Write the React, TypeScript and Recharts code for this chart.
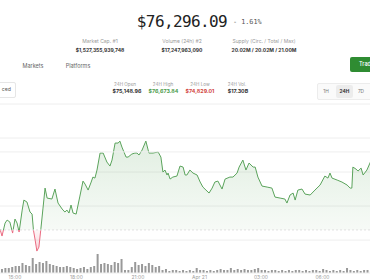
import React from "react";
import { ComposedChart, BarChart, Bar, Area, XAxis, YAxis, CartesianGrid, ReferenceLine } from "recharts";

// price samples: minutes since Apr 20 00:00, price in USD
const times = [
  856, 862, 871, 877, 885, 893, 900, 906, 912, 921,
  926, 935, 944, 950, 954, 959, 964, 970, 976, 982,
  988, 994, 1008, 1017, 1026, 1038, 1046, 1052, 1058, 1064,
  1070, 1079, 1090, 1099, 1105, 1114, 1123, 1128, 1134, 1140,
  1149, 1158, 1169, 1178, 1184, 1193, 1202, 1207, 1213, 1225,
  1231, 1242, 1251, 1257, 1263, 1272, 1283, 1292, 1304, 1319,
  1327, 1333, 1339, 1345, 1348, 1354, 1362, 1374, 1383, 1392,
  1398, 1403, 1412, 1421, 1433, 1442, 1450, 1459, 1468, 1477,
  1485, 1494, 1506, 1515, 1529, 1538, 1550, 1556, 1567, 1576,
  1585, 1597, 1603, 1611, 1623, 1638, 1652, 1661, 1676, 1690,
  1696, 1705, 1714, 1720, 1728, 1740, 1749, 1764, 1778, 1793,
  1807, 1816, 1822, 1828, 1843, 1857, 1872, 1881, 1886, 1889,
  1898, 1904, 1913, 1919, 1930, 1939, 1954,
];
const prices = [
  75162, 75059, 75250, 75294, 75265, 75103, 75309, 75250, 75118, 75441,
  75588, 75559, 75412, 75382, 75147, 75000, 74838, 74897, 75176, 75470,
  75764, 75617, 75603, 75750, 75544, 75456, 75412, 75441, 75397, 75515,
  75397, 75382, 75647, 75867, 75823, 75735, 75853, 75926, 75911, 76029,
  76279, 76279, 76147, 76088, 76176, 76426, 76426, 76455, 76367, 76220,
  76220, 76264, 76279, 76279, 76250, 76323, 76455, 76279, 76279, 76294,
  76220, 76000, 76029, 75956, 75985, 75897, 75926, 75941, 76088, 76073,
  75956, 75956, 76029, 75985, 75956, 75853, 75779, 75735, 75691, 75764,
  75853, 75867, 75750, 75897, 75926, 75926, 75985, 76073, 76176, 76029,
  76132, 76073, 76073, 75926, 75794, 75779, 75764, 75632, 75617, 75603,
  75544, 75662, 75691, 75588, 75735, 75750, 75676, 75662, 75735, 75809,
  75941, 75911, 75985, 75911, 75882, 75853, 75809, 75764, 75764, 76073,
  76044, 76014, 76058, 75956, 76029, 76132, 76294,
];

// 10-minute volume bars (USD millions)
const volumeStart = 861;
const volumes = [
  40, 50, 50, 60, 70, 70, 100, 80, 70, 150, 90, 110, 100, 120,
  90, 80, 70, 60,
  60, 70, 60, 50,
  40, 50, 60, 40,
  60, 70, 190,
  90, 100, 90, 80,
  110, 100, 140, 30,
  30, 60, 110,
  80, 90, 70, 100, 80, 60, 70,
  30, 40, 20, 30, 30, 20, 30, 20, 30, 20,
  50, 30, 30, 20, 30, 20, 30, 40, 30, 30,
  50, 30, 40, 30, 40, 30, 30, 40, 50, 30,
  30, 20, 30, 30, 20, 30, 20, 30, 20, 30, 30, 20, 30, 20, 30, 30, 20, 40,
  30, 20, 30, 20, 30, 20, 50, 30, 20, 30, 20, 30,
  30, 20,
];

const tickTimes = [900, 1080, 1260, 1440, 1620, 1800];
const tickLabels = ["15:00", "18:00", "21:00", "Apr 21", "03:00", "06:00"];
const gridPrices = [75000, 75500, 76000, 76500, 77000];

const openPrice = 75148.96;
const currentPrice = 76296.09;

const priceData = times.map((t, i) => ({ t, p: prices[i] }));
const volumeData = volumes.map((v, i) => ({ t: volumeStart + i * 10, v }));

const pMax = Math.max(...prices);
const pMin = Math.min(...prices);
const split = (pMax - openPrice) / (pMax - pMin);

const X_DOMAIN: [number, number] = [856.1, 1939.1];
const Y_DOMAIN: [number, number] = [74516, 77000];

const GREEN = "#5aa35b";
const RED = "#ea6a80";

type TProps = {
  x: number; y: number; size: number; color?: string; weight?: number;
  family?: string; children: React.ReactNode; anchor?: "center" | "left" | "right";
};
const T = ({ x, y, size, color = "#333", weight = 400, family, children, anchor = "center" }: TProps) => {
  const tx = anchor === "center" ? "-50%" : anchor === "right" ? "-100%" : "0";
  return (
    <div
      style={{
        position: "absolute", left: x, top: y, transform: `translate(${tx}, -50%)`,
        fontSize: size, color, fontWeight: weight, lineHeight: 1, whiteSpace: "nowrap",
        fontFamily: family,
      }}
    >
      {children}
    </div>
  );
};

export default function App() {
  return (
    <div
      style={{
        position: "fixed", left: 0, top: 0, width: 370, height: 280, overflow: "hidden",
        background: "#fff", fontFamily: "Inter, 'Noto Sans', sans-serif",
      }}
    >
      {/* header */}
      <T x={182} y={22} size={16} family="'DejaVu Sans Mono', monospace" color="#222">
        <span style={{ letterSpacing: -0.6 }}>$76,296.09</span>
      </T>
      <T x={233} y={21.5} size={6.8} family="'DejaVu Sans Mono', monospace" color="#555" anchor="left">
        - 1.61%
      </T>

      <T x={100} y={41} size={5} color="#9a9a9a">Market Cap. #1</T>
      <T x={182} y={41} size={5} color="#9a9a9a">Volume (24h) #2</T>
      <T x={264} y={41} size={5} color="#9a9a9a">Supply (Circ. / Total / Max)</T>
      <T x={100} y={49.5} size={5} weight={700} color="#333">$1,527,355,939,748</T>
      <T x={182} y={49.5} size={5} weight={700} color="#333">$17,247,963,090</T>
      <T x={264} y={49.5} size={5} weight={700} color="#333">20.02M / 20.02M / 21.00M</T>

      <T x={33} y={67} size={5.5} color="#666">Markets</T>
      <T x={78} y={67} size={5.5} color="#666">Platforms</T>

      <div style={{ position: "absolute", left: 350, top: 57, width: 30, height: 15, background: "#2f8c32", borderRadius: 2 }} />
      <T x={359} y={64.5} size={5.5} color="#fff" anchor="left" weight={500}>Trad</T>

      <div style={{ position: "absolute", left: -30, top: 82, width: 44, height: 14, border: "1px solid #e6e6e6", borderRadius: 2 }} />
      <T x={11} y={89.5} size={5.2} color="#555" anchor="right">ced</T>

      <T x={125} y={84.5} size={4.6} color="#9a9a9a">24H Open</T>
      <T x={163} y={84.5} size={4.6} color="#9a9a9a">24H High</T>
      <T x={200} y={84.5} size={4.6} color="#9a9a9a">24H Low</T>
      <T x={237} y={84.5} size={4.6} color="#9a9a9a">24H Vol.</T>
      <T x={127} y={92} size={5.3} weight={700} color="#333">$75,148.96</T>
      <T x={163.5} y={92} size={5.3} weight={700} color="#4c9c4c">$76,673.84</T>
      <T x={200} y={92} size={5.3} weight={700} color="#d2463f">$74,829.01</T>
      <T x={238} y={92} size={5.3} weight={700} color="#333">$17.30B</T>

      <div style={{ position: "absolute", left: 317, top: 83, width: 60, height: 15, border: "1px solid #ececec", borderRadius: 2, background: "#fafafa" }} />
      <div style={{ position: "absolute", left: 336, top: 84.5, width: 17, height: 13, background: "#ececec", borderRadius: 2 }} />
      <T x={326} y={91} size={4.8} color="#777">1H</T>
      <T x={344.5} y={91} size={4.8} color="#333" weight={700}>24H</T>
      <T x={361} y={91} size={4.8} color="#777">7D</T>

      {/* volume */}
      <div style={{ position: "absolute", left: 0, top: 0 }}>
        <BarChart width={370} height={280} data={volumeData} margin={{ top: 104, right: 0, bottom: 7, left: 0 }}>
          <XAxis dataKey="t" type="number" domain={X_DOMAIN} allowDataOverflow hide />
          <YAxis domain={[0, 1690]} hide />
          <Bar dataKey="v" fill="#999999" barSize={2} isAnimationActive={false} />
        </BarChart>
      </div>

      {/* price */}
      <div style={{ position: "absolute", left: 0, top: 0 }}>
        <ComposedChart width={370} height={280} data={priceData} margin={{ top: 104, right: 0, bottom: 0, left: 0 }}>
          <defs>
            <linearGradient id="lineSplit" x1="0" y1="0" x2="0" y2="1">
              <stop offset={split} stopColor={GREEN} />
              <stop offset={split} stopColor={RED} />
            </linearGradient>
            <linearGradient id="fillSplit" x1="0" y1="0" x2="0" y2="1">
              <stop offset={0} stopColor={GREEN} stopOpacity={0.18} />
              <stop offset={split} stopColor={GREEN} stopOpacity={0.05} />
              <stop offset={split} stopColor={RED} stopOpacity={0.06} />
              <stop offset={1} stopColor={RED} stopOpacity={0.28} />
            </linearGradient>
          </defs>
          <CartesianGrid vertical={false} stroke="#eeeeee" />
          <XAxis
            dataKey="t"
            type="number"
            domain={X_DOMAIN}
            allowDataOverflow
            ticks={tickTimes}
            tickFormatter={(v: number) => tickLabels[tickTimes.indexOf(v)] ?? ""}
            axisLine={false}
            tickLine={false}
            tickSize={0}
            tickMargin={2}
            height={7}
            tick={{ fontSize: 5, fill: "#a0a0a0", fontFamily: "Inter, sans-serif" }}
          />
          <YAxis domain={Y_DOMAIN} ticks={gridPrices} allowDataOverflow hide />
          <ReferenceLine y={currentPrice} stroke="#eeeeee" />
          <ReferenceLine y={openPrice} stroke="#e0e0e0" strokeDasharray="2 2" />
          <Area
            type="linear"
            dataKey="p"
            baseValue={openPrice}
            stroke="url(#lineSplit)"
            strokeWidth={1}
            fill="url(#fillSplit)"
            fillOpacity={1}
            dot={false}
            activeDot={false}
            isAnimationActive={false}
          />
        </ComposedChart>
      </div>
    </div>
  );
}
